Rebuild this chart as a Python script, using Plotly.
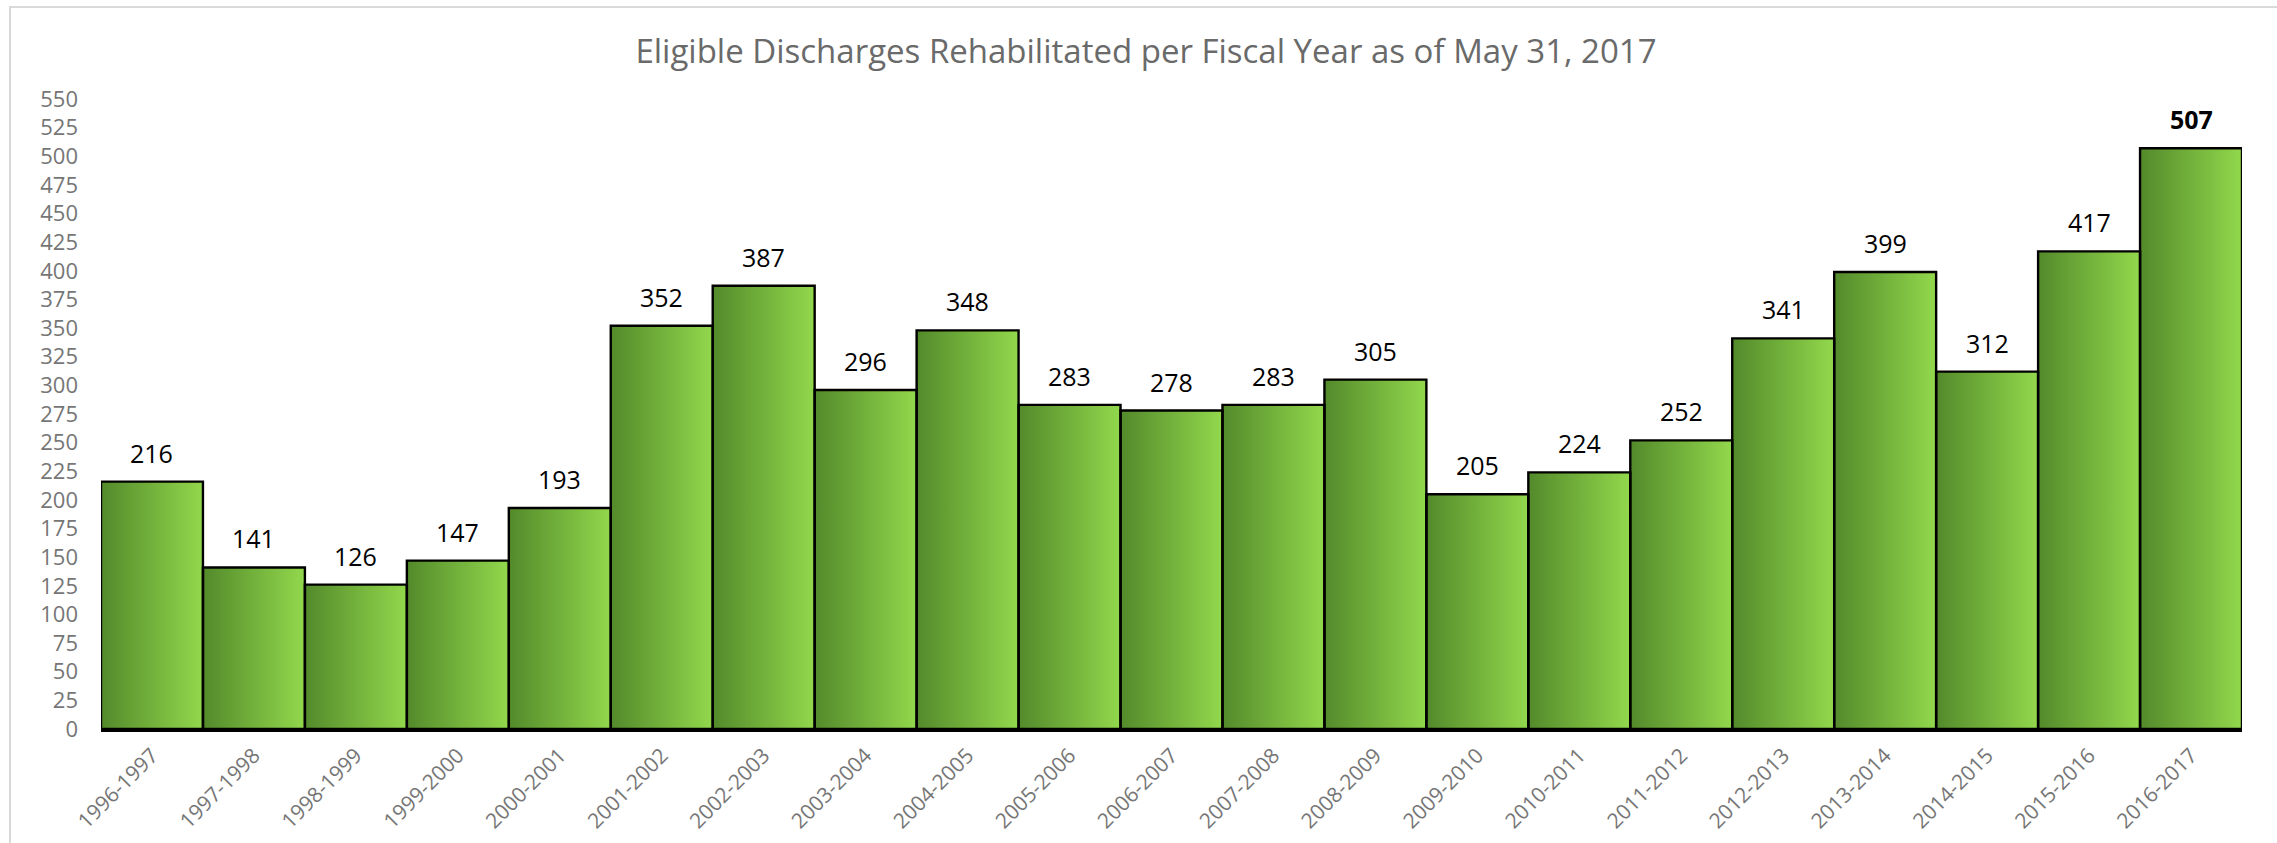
import plotly.graph_objects as go

# Fiscal years and number of eligible discharges rehabilitated in each
fiscal_years = [
    "1996-1997", "1997-1998", "1998-1999", "1999-2000", "2000-2001",
    "2001-2002", "2002-2003", "2003-2004", "2004-2005", "2005-2006",
    "2006-2007", "2007-2008", "2008-2009", "2009-2010", "2010-2011",
    "2011-2012", "2012-2013", "2013-2014", "2014-2015", "2015-2016",
    "2016-2017",
]
discharges = [
    216, 141, 126, 147, 193, 352, 387, 296, 348, 283,
    278, 283, 305, 205, 224, 252, 341, 399, 312, 417,
    507,
]
y_ticks = list(range(0, 551, 25))

TITLE = "Eligible Discharges Rehabilitated per Fiscal Year as of May 31, 2017"
FONT = "Open Sans"
GRADIENT = [[0, "#538a2b"], [1, "#92d84c"]]

W, H = 2277, 843
M_L, M_R, M_T, M_B = 101, 35, 99, 114

fig = go.Figure()
n = len(discharges)

# Invisible bars carry the hover values
fig.add_trace(go.Bar(
    x=list(range(n)), y=discharges, width=1,
    marker=dict(color="rgba(0,0,0,0)", line=dict(width=0)),
    showlegend=False, hovertemplate="%{y}<extra></extra>",
))

# Gradient-filled body of each bar (dark green on the left to light green on the right)
for i, v in enumerate(discharges):
    fig.add_trace(go.Scatter(
        x=[i - 0.5, i - 0.5, i + 0.5, i + 0.5, i - 0.5],
        y=[0, v, v, 0, 0],
        mode="lines",
        line=dict(width=0),
        fill="toself",
        fillgradient=dict(type="horizontal", colorscale=GRADIENT),
        hoverinfo="skip",
        showlegend=False,
    ))

# Black outlines drawn on top of all the fills
ox, oy = [], []
for i, v in enumerate(discharges):
    ox += [i - 0.5, i - 0.5, i + 0.5, i + 0.5, i - 0.5, None]
    oy += [0, v, v, 0, 0, None]
fig.add_trace(go.Scatter(
    x=ox, y=oy, mode="lines",
    line=dict(color="black", width=2.4),
    hoverinfo="skip", showlegend=False, cliponaxis=False,
))

# Value labels above the bars; the latest year is emphasised
for i, v in enumerate(discharges):
    last = i == n - 1
    fig.add_annotation(
        x=i, y=v, text=f"<b>{v}</b>" if last else str(v),
        showarrow=False, xanchor="center", yanchor="bottom", yshift=10,
        font=dict(family=FONT, size=25, color="black"),
    )

# Chart frame
fig.add_shape(
    type="rect", xref="paper", yref="paper",
    x0=(10 - M_L) / (W - M_L - M_R), x1=(2310 - M_L) / (W - M_L - M_R),
    y0=(H - M_B - 880) / (H - M_T - M_B), y1=(H - M_B - 7) / (H - M_T - M_B),
    line=dict(color="#d9d9d9", width=2), layer="below",
)

fig.update_layout(
    width=W, height=H,
    margin=dict(l=M_L, r=M_R, t=M_T, b=M_B, pad=0, autoexpand=False),
    paper_bgcolor="white", plot_bgcolor="white",
    bargap=0,
    title=dict(
        text=TITLE, xref="container", x=1146 / W, xanchor="center",
        yref="container", y=1 - 51 / H, yanchor="middle",
        font=dict(family=FONT, size=33, color="#6a6a6a"),
    ),
    xaxis=dict(
        range=[-0.5, n - 0.5], automargin=False,
        tickmode="array", tickvals=list(range(n)), ticktext=fiscal_years,
        tickangle=-45, ticks="", showgrid=False, zeroline=False,
        showline=True, linecolor="black", linewidth=3,
        tickfont=dict(family=FONT, size=21, color="#767676"),
        ticklabelstandoff=3,
    ),
    yaxis=dict(
        range=[0, 550], tickmode="array", tickvals=y_ticks, automargin=False,
        ticks="", showgrid=False, zeroline=False, showline=False,
        tickfont=dict(family=FONT, size=22, color="#767676"),
        ticklabelstandoff=22,
    ),
)

fig.write_html("out.html")
